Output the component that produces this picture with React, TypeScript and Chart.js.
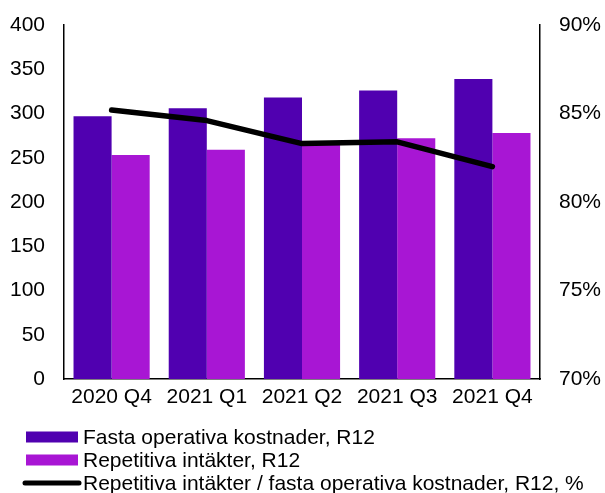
import React, { useEffect, useRef } from "react";
import { Chart, registerables } from "chart.js";

Chart.register(...registerables);

const categories = ["2020 Q4", "2021 Q1", "2021 Q2", "2021 Q3", "2021 Q4"];
const fastaKostnader = [297, 306, 318, 326, 339];
const repetitivaIntakter = [253, 259, 265, 272, 278];
const kvotProcent = [85.2, 84.6, 83.3, 83.4, 82.0];
const seriesLabels = [
  "Fasta operativa kostnader, R12",
  "Repetitiva intäkter, R12",
  "Repetitiva intäkter / fasta operativa kostnader, R12, %",
];

const FONT = "'Liberation Sans', Arial, sans-serif";
const FS = 21;

const legendPlugin = {
  id: "customLegend",
  afterDraw(chart: any) {
    const ctx = chart.ctx;
    const ds = chart.data.datasets;
    const rows = [437, 460, 483];
    ctx.save();
    ctx.font = `${FS}px ${FONT}`;
    ctx.textBaseline = "middle";
    ctx.textAlign = "left";
    ds.forEach((d: any, i: number) => {
      const y = rows[i];
      if (d.type === "line") {
        ctx.strokeStyle = d.borderColor;
        ctx.lineWidth = 5;
        ctx.lineCap = "round";
        ctx.beginPath();
        ctx.moveTo(25, y);
        ctx.lineTo(79, y);
        ctx.stroke();
      } else {
        ctx.fillStyle = d.backgroundColor;
        ctx.fillRect(26, y - 5.5, 52, 11);
      }
      ctx.fillStyle = "#000";
      ctx.fillText(d.label, 83, y + 1);
    });
    ctx.restore();
  },
};

const fitVertical = (w: number) => (s: any) => {
  s.width = w;
  s.paddingTop = 0;
  s.paddingBottom = 0;
};

export default function App() {
  const ref = useRef<HTMLCanvasElement | null>(null);
  useEffect(() => {
    if (!ref.current) return;
    const chart = new Chart(ref.current, {
      type: "bar",
      data: {
        labels: categories,
        datasets: [
          {
            type: "bar",
            label: seriesLabels[0],
            data: fastaKostnader,
            backgroundColor: "#5000B0",
            yAxisID: "y",
            order: 1,
            categoryPercentage: 0.8,
            barPercentage: 1,
          },
          {
            type: "bar",
            label: seriesLabels[1],
            data: repetitivaIntakter,
            backgroundColor: "#A816D4",
            yAxisID: "y",
            order: 2,
            categoryPercentage: 0.8,
            barPercentage: 1,
          },
          {
            type: "line",
            label: seriesLabels[2],
            data: kvotProcent,
            borderColor: "#000000",
            backgroundColor: "#000000",
            borderWidth: 5.5,
            borderCapStyle: "round",
            borderJoinStyle: "round",
            pointRadius: 0,
            tension: 0,
            yAxisID: "y1",
            order: 0,
          },
        ],
      } as any,
      options: {
        animation: false,
        responsive: false,
        maintainAspectRatio: false,
        layout: { padding: { top: 25, bottom: 84, left: 0, right: 0 } },
        plugins: {
          legend: { display: false },
          tooltip: { enabled: false },
        },
        scales: {
          x: {
            grid: { display: false, drawTicks: false },
            border: { display: true, color: "#000", width: 1.5 },
            ticks: { color: "#000", font: { family: FONT, size: FS }, padding: 6, maxRotation: 0 },
            afterFit: (s: any) => { s.height = 30; },
          },
          y: {
            position: "left",
            min: 0,
            max: 400,
            grid: { display: false, drawTicks: false },
            border: { display: true, color: "#000", width: 1.5 },
            ticks: { stepSize: 50, color: "#000", font: { family: FONT, size: FS }, padding: 19 },
            afterFit: fitVertical(64),
          },
          y1: {
            position: "right",
            min: 70,
            max: 90,
            grid: { display: false, drawTicks: false },
            border: { display: true, color: "#000", width: 1.5 },
            ticks: {
              stepSize: 5,
              color: "#000",
              font: { family: FONT, size: FS },
              padding: 19,
              callback: (v: any) => `${v}%`,
            },
            afterFit: fitVertical(65),
          },
        },
      } as any,
      plugins: [legendPlugin],
    });
    return () => chart.destroy();
  }, []);
  return (
    <div style={{ position: "absolute", left: 0, top: 0, width: 605, height: 493, background: "#fff" }}>
      <canvas ref={ref} width={605} height={493} style={{ width: 605, height: 493 }} />
    </div>
  );
}
